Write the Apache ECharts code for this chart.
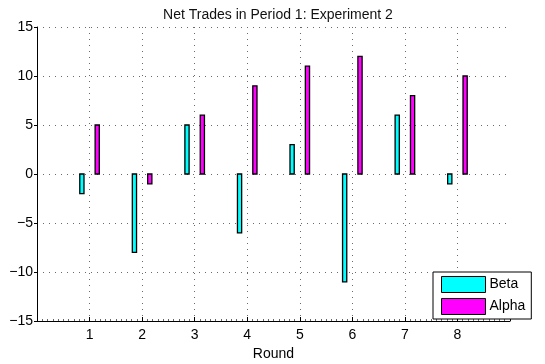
<!DOCTYPE html>
<html>
<head>
<meta charset="utf-8">
<script src="https://cdn.jsdelivr.net/npm/echarts@6/dist/echarts.min.js"></script>
<style>
  html, body { margin: 0; padding: 0; background: #fff; }
  #chart { width: 545px; height: 364px; }
</style>
</head>
<body>
<div id="chart"></div>
<script>
// Net trades per round for the two trader groups
const rounds = [1, 2, 3, 4, 5, 6, 7, 8];
const betaTrades = [-2, -8, 5, -6, 3, -11, 6, -1];
const alphaTrades = [5, -1, 6, 9, 11, 12, 8, 10];
const yTicks = [-15, -10, -5, 0, 5, 10, 15];

const FONT = 'Liberation Sans, Arial, Helvetica, sans-serif';
const BAR_W = 0.08;      // bar width in round units
const BAR_OFF = 0.146;   // grouped bar offset from the round position
const GRID_DOT = '#6a6a6a';

function barRenderer(offset) {
  return function (params, api) {
    const x = api.value(0);
    const v = api.value(1);
    const a = api.coord([x + offset - BAR_W / 2, 0]);
    const b = api.coord([x + offset + BAR_W / 2, v]);
    return {
      type: 'rect',
      shape: {
        x: a[0],
        y: Math.min(a[1], b[1]),
        width: b[0] - a[0],
        height: Math.abs(b[1] - a[1])
      },
      style: {
        fill: api.visual('color'),
        stroke: '#000',
        lineWidth: 1.3
      }
    };
  };
}

const chart = echarts.init(document.getElementById('chart'), null, { renderer: 'canvas' });

// vertical grid lines only at the rounds, not at the plot edges
const vGridColors = ['rgba(0,0,0,0)'];
rounds.forEach(() => vGridColors.push(GRID_DOT));
vGridColors.push('rgba(0,0,0,0)');

chart.setOption({
  animation: false,
  backgroundColor: '#fff',
  title: {
    text: 'Net Trades in Period 1: Experiment 2',
    left: 273,
    textAlign: 'center',
    top: 3,
    textStyle: { fontFamily: FONT, fontSize: 14, fontWeight: 'normal', color: '#111' }
  },
  grid: { left: 37, right: 35, top: 27, bottom: 43, containLabel: false, outerBoundsMode: 'none' },
  legend: {
    orient: 'vertical',
    left: 433,
    top: 272,
    width: 100,
    padding: [4, 6, 4, 8],
    itemWidth: 44,
    itemHeight: 16,
    itemGap: 5,
    icon: 'rect',
    backgroundColor: '#fff',
    borderColor: '#000',
    borderWidth: 1,
    itemStyle: { borderColor: '#000', borderWidth: 1 },
    textStyle: { fontFamily: FONT, fontSize: 14, color: '#000', padding: [0, 0, 0, -1] },
    data: ['Beta', 'Alpha']
  },
  xAxis: {
    type: 'value',
    min: 0,
    max: 9,
    interval: 1,
    name: 'Round',
    nameLocation: 'middle',
    nameGap: 21,
    nameTextStyle: { fontFamily: FONT, fontSize: 14, color: '#000' },
    axisLine: { show: true, onZero: false, lineStyle: { color: '#000', width: 1 } },
    axisTick: { show: true, inside: true, length: 4, lineStyle: { color: '#000' } },
    minorTick: { show: true, splitNumber: 10, length: 2, lineStyle: { color: '#666' } },
    axisLabel: {
      margin: 7,
      fontFamily: FONT, fontSize: 14, color: '#000',
      formatter: v => (rounds.indexOf(v) >= 0 ? String(v) : '')
    },
    splitLine: { show: true, lineStyle: { color: vGridColors, type: [1, 5], width: 1 } }
  },
  yAxis: {
    type: 'value',
    min: yTicks[0],
    max: yTicks[yTicks.length - 1],
    interval: 5,
    axisLine: { show: true, lineStyle: { color: '#000', width: 1 } },
    axisTick: { show: true, inside: false, length: 3, lineStyle: { color: '#000' } },
    axisLabel: {
      margin: 4,
      fontFamily: FONT, fontSize: 14, color: '#000',
      formatter: v => (v < 0 ? '\u2212' + Math.abs(v) : String(v))
    },
    splitLine: { show: true, lineStyle: { color: GRID_DOT, type: [1, 5], width: 1 } }
  },
  series: [
    {
      name: 'Beta',
      type: 'custom',
      renderItem: barRenderer(-BAR_OFF),
      itemStyle: { color: '#00ffff', borderColor: '#000', borderWidth: 1 },
      encode: { x: 0, y: 1 },
      data: rounds.map((r, i) => [r, betaTrades[i]])
    },
    {
      name: 'Alpha',
      type: 'custom',
      renderItem: barRenderer(BAR_OFF),
      itemStyle: { color: '#ff00ff', borderColor: '#000', borderWidth: 1 },
      encode: { x: 0, y: 1 },
      data: rounds.map((r, i) => [r, alphaTrades[i]])
    }
  ]
});
</script>
</body>
</html>
